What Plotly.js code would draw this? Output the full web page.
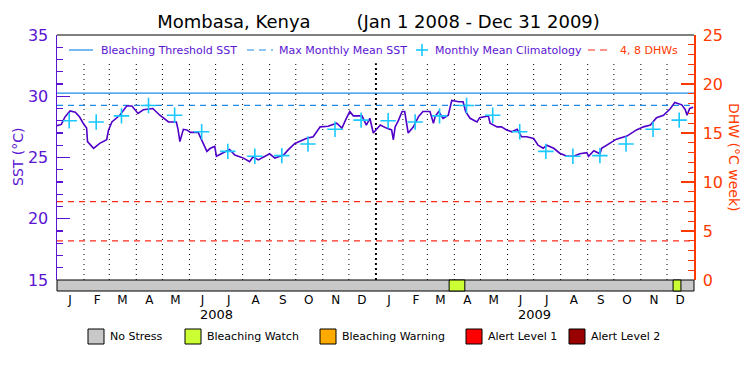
<!DOCTYPE html>
<html>
<head>
<meta charset="utf-8">
<script src="https://cdn.plot.ly/plotly-3.0.1.min.js"></script>
<style>html,body{margin:0;padding:0;background:#fff;}#chart{width:750px;height:375px;}</style>
</head>
<body>
<div id="chart"></div>
<script>
// ---- data ----
const sstDates = [
'2008-01-01','2008-01-06','2008-01-10','2008-01-16','2008-01-22','2008-01-27','2008-01-31','2008-02-04','2008-02-05','2008-02-12',
'2008-02-19','2008-02-27','2008-02-29','2008-03-04','2008-03-13','2008-03-21','2008-03-27','2008-04-03','2008-04-09','2008-04-20',
'2008-04-28','2008-05-08','2008-05-17','2008-05-19','2008-05-21','2008-05-25','2008-05-29','2008-06-02','2008-06-11','2008-06-15',
'2008-06-21','2008-06-25','2008-06-30','2008-07-02','2008-07-10','2008-07-17','2008-07-23','2008-08-02','2008-08-09','2008-08-13',
'2008-08-19','2008-09-01','2008-09-07','2008-09-17','2008-09-22','2008-09-30','2008-10-13','2008-10-21','2008-10-29','2008-11-07',
'2008-11-17','2008-11-23','2008-11-28','2008-12-02','2008-12-06','2008-12-16','2008-12-21','2008-12-25','2008-12-29',
'2009-01-06','2009-01-13','2009-01-19','2009-01-21','2009-01-23','2009-01-27','2009-01-31','2009-02-03','2009-02-05','2009-02-07',
'2009-02-13','2009-02-19','2009-02-24','2009-03-04','2009-03-08','2009-03-10','2009-03-14','2009-03-19','2009-03-25','2009-03-29',
'2009-04-06','2009-04-11','2009-04-14','2009-04-19','2009-04-27','2009-04-30','2009-05-10','2009-05-12','2009-05-20','2009-05-25',
'2009-05-31','2009-06-06','2009-06-12','2009-06-17','2009-06-23','2009-07-01','2009-07-06','2009-07-12','2009-07-16','2009-07-24',
'2009-07-31','2009-08-08','2009-08-16','2009-08-23','2009-08-31','2009-09-02','2009-09-08','2009-09-15','2009-09-17','2009-09-27',
'2009-10-04','2009-10-16','2009-10-27','2009-11-04','2009-11-12','2009-11-19','2009-11-27','2009-12-05','2009-12-10','2009-12-18',
'2009-12-22','2009-12-24','2009-12-27','2009-12-31'
];
const sstValues = [
27.6,27.7,28.3,28.8,28.7,28.3,27.8,27.4,26.3,25.75,
26.15,26.45,27.2,27.9,28.45,29.2,29.2,28.6,28.9,29.0,
28.45,27.9,27.9,27.25,26.3,27.3,27.25,27.05,27.05,26.45,
25.5,25.75,25.9,25.1,25.4,25.65,25.2,24.95,24.65,25.05,
24.8,25.3,24.95,25.2,25.6,26.15,26.55,26.7,27.5,27.55,
27.8,27.4,28.2,28.75,28.4,28.4,27.65,28.2,27.0,
27.65,27.4,27.25,26.45,27.5,28.05,28.75,28.75,27.9,27.0,
27.5,28.35,28.75,28.75,27.8,28.35,28.75,28.2,28.45,29.65,
29.55,29.55,28.75,28.2,27.9,28.25,28.4,27.8,27.5,27.5,
27.25,27.1,27.3,26.7,26.7,26.55,26.0,25.75,26.0,25.75,
25.35,25.1,25.1,25.3,25.4,25.1,25.55,25.3,25.75,26.15,
26.5,26.75,27.25,27.5,27.65,28.25,28.45,29.0,29.5,29.3,
28.9,28.45,29.0,29.1
];
const climDates = [
'2008-01-15','2008-02-15','2008-03-15','2008-04-15','2008-05-15','2008-06-15','2008-07-15','2008-08-15','2008-09-15','2008-10-15','2008-11-15','2008-12-15',
'2009-01-15','2009-02-15','2009-03-15','2009-04-15','2009-05-15','2009-06-15','2009-07-15','2009-08-15','2009-09-15','2009-10-15','2009-11-15','2009-12-15'
];
const climValues = [28.0,27.9,28.4,29.25,28.45,27.1,25.5,25.1,25.15,26.1,27.3,28.05,
                    28.0,27.9,28.4,29.25,28.45,27.1,25.5,25.1,25.15,26.1,27.3,28.05];
const bleachingThreshold = 30.26;
const maxMonthlyMean = 29.26;
const dhwLevels = [4, 8];
const years = ['2008','2009'];
const monthLetters = ['J','F','M','A','M','J','J','A','S','O','N','D'];
const watchStarts = ['2009-03-26','2009-12-08'];
const watchEnds   = ['2009-04-13','2009-12-17'];
const stressNames = ['No Stress','Bleaching Watch','Bleaching Warning','Alert Level 1','Alert Level 2'];
const stressColors = ['#c8c8c8','#ccff33','#ffaa00','#ff0000','#990000'];
const legendNames = ['Bleaching Threshold SST','Max Monthly Mean SST','Monthly Mean Climatology','4, 8 DHWs'];

// ---- styling ----
const FONT = 'DejaVu Sans';
const PURPLE = '#5a14d2';
const LINEPURPLE = '#4f00c8';
const ORANGE = '#ff3a00';
const DHWRED = '#ff2a1a';
const BLUE = '#1e8ce6';
const CYAN = '#18c8ff';
const x0 = '2008-01-01', x1 = '2010-01-01';
const bandTop = 11/256;
const L = 57, T = 35, W = 637, H = 256;
const px = v => (v - L) / W;          // pixel x -> paper
const py = v => (T + H - v) / H;      // pixel y -> paper

const traces = [];
traces.push({x:[x0,x1], y:[bleachingThreshold,bleachingThreshold], type:'scatter', mode:'lines', name:legendNames[0], line:{color:BLUE, width:1.2}, showlegend:false});
traces.push({x:[x0,x1], y:[maxMonthlyMean,maxMonthlyMean], type:'scatter', mode:'lines', name:legendNames[1], line:{color:BLUE, width:1.2, dash:'6px,5px'}, showlegend:false});
traces.push({x: sstDates, y: sstValues, type:'scatter', mode:'lines', line:{color:LINEPURPLE, width:1.6}, showlegend:false, name:'SST'});
traces.push({x: climDates, y: climValues, type:'scatter', mode:'markers', name:legendNames[2], marker:{symbol:'cross-thin', size:11, line:{color:CYAN, width:1.6}, color:CYAN}, showlegend:false});
const dx = [], dy = [];
dhwLevels.forEach((v,i)=>{ if(i) {dx.push(null); dy.push(null);} dx.push(x0,x1); dy.push(v,v); });
traces.push({x: dx, y: dy, yaxis:'y2', type:'scatter', mode:'lines', name:legendNames[3], line:{color:DHWRED, width:1.2, dash:'6px,5px'}, showlegend:false});

const shapes = [];
// month boundary dotted lines
years.forEach((yr, yi)=>{
  monthLetters.forEach((m, mi)=>{
    if (yi===0 && mi===0) return;
    const d = yr + '-' + String(mi+1).padStart(2,'0') + '-01';
    const isYear = (mi===0);
    shapes.push({type:'line', xref:'x', yref:'y', x0:d, x1:d, y0:15, y1:32.7, layer:'below',
      line:{color:'#000', width:isYear?2:1, dash:isYear?'2px,3px':'1px,4px'}});
  });
});
// stress band
shapes.push({type:'rect', xref:'paper', yref:'paper', x0:0, x1:1, y0:0, y1:bandTop, fillcolor:stressColors[0], line:{color:'#000', width:1}});
watchStarts.forEach((s,i)=>{
  shapes.push({type:'rect', xref:'x', yref:'paper', x0:s, x1:watchEnds[i], y0:0, y1:bandTop, fillcolor:stressColors[1], line:{color:'#000', width:1}});
});
// top frame
shapes.push({type:'line', xref:'paper', yref:'paper', x0:0, x1:1, y0:1, y1:1, line:{color:'#000', width:1.2}});

const annotations = [];
// top legend (manual, to match spacing)
const legY = py(50);
shapes.push({type:'line', xref:'paper', yref:'paper', x0:px(69), x1:px(93), y0:legY, y1:legY, line:{color:BLUE, width:1.2}});
shapes.push({type:'line', xref:'paper', yref:'paper', x0:px(247), x1:px(273), y0:legY, y1:legY, line:{color:BLUE, width:1.2, dash:'7px,5px'}});
shapes.push({type:'line', xref:'paper', yref:'paper', x0:px(416), x1:px(428), y0:legY, y1:legY, line:{color:CYAN, width:1.6}});
shapes.push({type:'line', xref:'paper', yref:'paper', x0:px(422), x1:px(422), y0:py(44), y1:py(56), line:{color:CYAN, width:1.6}});
shapes.push({type:'line', xref:'paper', yref:'paper', x0:px(588), x1:px(612), y0:legY, y1:legY, line:{color:DHWRED, width:1.2, dash:'7px,5px'}});
const legTextX = [99, 277, 433, 618];
const legTextColor = [PURPLE, PURPLE, PURPLE, ORANGE];
legendNames.forEach((n,i)=>{
  annotations.push({xref:'paper', yref:'paper', x:px(legTextX[i]), y:legY, text:n, showarrow:false, xanchor:'left', yanchor:'middle', font:{family:FONT, size:11, color:legTextColor[i]}});
});
// year labels
years.forEach(yr=>{
  annotations.push({xref:'x', yref:'paper', x: yr+'-07-02', y:py(314), text:yr, showarrow:false, font:{family:FONT, size:13, color:'#000'}, xanchor:'center', yanchor:'middle'});
});
// stress legend
const boxX = [88,185,320,466,569];
stressNames.forEach((n,i)=>{
  shapes.push({type:'rect', xref:'paper', yref:'paper', x0:px(boxX[i]), x1:px(boxX[i]+16), y0:py(329), y1:py(344), fillcolor:stressColors[i], line:{color:'#000', width:1}});
  annotations.push({xref:'paper', yref:'paper', x:px(boxX[i]+20), y:py(336), text:n, showarrow:false, xanchor:'left', yanchor:'middle', font:{family:FONT, size:11, color:'#000'}});
});
// axis titles
annotations.push({xref:'paper', yref:'paper', x:px(18), y:py(157), text:'SST (°C)', textangle:-90, showarrow:false, xanchor:'center', yanchor:'middle', font:{family:FONT, size:14, color:PURPLE}});
annotations.push({xref:'paper', yref:'paper', x:px(734), y:py(157), text:'DHW (°C week)', textangle:90, showarrow:false, xanchor:'center', yanchor:'middle', font:{family:FONT, size:14, color:ORANGE}});

// month ticks
const tickvals = [], ticktext = [];
years.forEach(yr=>monthLetters.forEach((m,mi)=>{ tickvals.push(yr+'-'+String(mi+1).padStart(2,'0')+'-16'); ticktext.push(m); }));

const NB = '\u00a0';
const layout = {
  width:750, height:375,
  margin:{l:L, r:750-L-W, t:T, b:375-T-H, pad:0},
  paper_bgcolor:'#fff', plot_bgcolor:'#fff',
  font:{family:FONT, color:'#000'},
  title:{text:'Mombasa, Kenya' + NB.repeat(8) + '(Jan 1 2008 - Dec 31 2009)', x:378.5/750, xanchor:'center', xref:'container', y:1-22/375, yref:'container', yanchor:'middle', font:{family:FONT, size:18, color:'#000'}},
  xaxis:{type:'date', range:[x0,x1], anchor:'free', position:0, showgrid:false, zeroline:false, showline:false,
         tickmode:'array', tickvals:tickvals, ticktext:ticktext, ticks:'', tickfont:{family:FONT, size:12, color:'#000'}, ticklabelstandoff:0},
  yaxis:{domain:[bandTop,1], range:[15,35], showgrid:false, zeroline:false, showline:true, linecolor:PURPLE, linewidth:1.5,
         ticks:'inside', ticklen:13, tickwidth:1.2, tickcolor:PURPLE, dtick:5, tick0:15,
         minor:{ticks:'inside', ticklen:6, dtick:1, tickcolor:PURPLE, tickwidth:1.2, showgrid:false},
         tickfont:{family:FONT, size:16, color:PURPLE}, ticklabelstandoff:4},
  yaxis2:{domain:[bandTop,1], range:[0,25], overlaying:'y', side:'right', showgrid:false, zeroline:false, showline:true, linecolor:ORANGE, linewidth:1.5,
         ticks:'inside', ticklen:13, tickwidth:1.2, tickcolor:ORANGE, dtick:5, tick0:0,
         minor:{ticks:'inside', ticklen:6, dtick:1, tickcolor:ORANGE, tickwidth:1.2, showgrid:false},
         tickfont:{family:FONT, size:16, color:ORANGE}, ticklabelstandoff:4},
  shapes: shapes,
  annotations: annotations,
  showlegend:false
};

Plotly.newPlot('chart', traces, layout, {displayModeBar:false, staticPlot:true});
</script>
</body>
</html>
